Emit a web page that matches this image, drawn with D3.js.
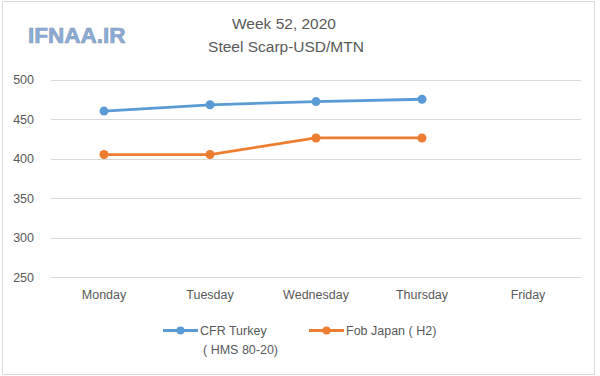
<!DOCTYPE html>
<html lang="en">
  <head>
    <meta charset="utf-8" />
    <title>Week 52, 2020 - Steel Scarp</title>
    <script src="https://cdnjs.cloudflare.com/ajax/libs/d3/7.8.5/d3.min.js"></script>
    <style type="text/css">
      body { margin: 0; background: #fff; }
      text { font-family: "Liberation Sans", Arial, sans-serif; }
    </style>
  </head>

  <body>
    <div id="chart"></div>
    <script>
      const days = ['Monday', 'Tuesday', 'Wednesday', 'Thursday', 'Friday'];
      const cfrTurkey = [460, 468, 472, 475, null];
      const fobJapan = [405, 405, 426, 426, null];
      const yTicks = [250, 300, 350, 400, 450, 500];
      const seriesNames = [['CFR Turkey', '( HMS 80-20)'], ['Fob Japan ( H2)']];
      const colors = ['#5b9bd5', '#ed7d31'];

      const W = 600, H = 376;
      const svg = d3.select('#chart')
        .append('svg')
        .attr('width', W)
        .attr('height', H);

      // outer frame
      svg.append('rect')
        .attr('x', 2.5).attr('y', 1.5)
        .attr('width', 592).attr('height', 373)
        .attr('fill', '#fff')
        .attr('stroke', '#d9d9d9');

      const x = d3.scaleBand().domain(days).range([51, 581]);
      const y = d3.scaleLinear().domain([250, 500]).range([277, 79.5]);

      // gridlines
      svg.append('g')
        .selectAll('line')
        .data(yTicks)
        .join('line')
        .attr('x1', 51).attr('x2', 581)
        .attr('y1', d => Math.round(y(d)) + 0.5)
        .attr('y2', d => Math.round(y(d)) + 0.5)
        .attr('stroke', '#d9d9d9');

      const yAxis = svg.append('g')
        .attr('transform', 'translate(34,0)')
        .call(d3.axisLeft(y).tickValues(yTicks).tickSize(0).tickPadding(0));
      yAxis.select('.domain').remove();
      yAxis.selectAll('text')
        .attr('font-size', 12.5)
        .attr('fill', '#595959')
        .style('font-family', '"Liberation Sans", Arial, sans-serif');

      const xAxis = svg.append('g')
        .attr('transform', 'translate(0,277)')
        .call(d3.axisBottom(x).tickSize(0).tickPadding(13));
      xAxis.select('.domain').remove();
      xAxis.selectAll('text')
        .attr('font-size', 12.5)
        .attr('fill', '#595959')
        .style('font-family', '"Liberation Sans", Arial, sans-serif');

      const line = d3.line()
        .defined(d => d != null)
        .x((d, i) => x(days[i]) + x.bandwidth() / 2)
        .y(d => y(d));

      [cfrTurkey, fobJapan].forEach((vals, s) => {
        svg.append('path')
          .attr('d', line(vals))
          .attr('fill', 'none')
          .attr('stroke', colors[s])
          .attr('stroke-width', 2.8)
          .attr('stroke-linejoin', 'round');
        svg.append('g')
          .selectAll('circle')
          .data(vals.map((v, i) => [i, v]).filter(d => d[1] != null))
          .join('circle')
          .attr('cx', d => x(days[d[0]]) + x.bandwidth() / 2)
          .attr('cy', d => y(d[1]))
          .attr('r', 4.5)
          .attr('fill', colors[s]);
      });

      // titles
      svg.append('text')
        .attr('x', 284).attr('y', 29)
        .attr('text-anchor', 'middle')
        .attr('font-size', 15.5)
        .attr('fill', '#595959')
        .text('Week 52, 2020');
      svg.append('text')
        .attr('x', 286).attr('y', 52)
        .attr('text-anchor', 'middle')
        .attr('font-size', 15.5)
        .attr('fill', '#595959')
        .text('Steel Scarp-USD/MTN');

      // watermark logo
      svg.append('text')
        .attr('x', 28).attr('y', 43)
        .attr('font-size', 22.5)
        .attr('font-weight', 'bold')
        .attr('fill', '#86acdd')
        .attr('stroke', '#8f9db0')
        .attr('stroke-width', 0.7)
        .text('IFNAA.IR');

      // legend
      const legendX = [163, 309];
      seriesNames.forEach((lines, s) => {
        const g = svg.append('g').attr('transform', `translate(${legendX[s]},330.5)`);
        g.append('line')
          .attr('x1', 0).attr('x2', 35)
          .attr('stroke', colors[s]).attr('stroke-width', 2.8);
        g.append('circle').attr('cx', 17.5).attr('r', 4).attr('fill', colors[s]);
        lines.forEach((t, k) => {
          g.append('text')
            .attr('x', k === 0 ? 37 : 40)
            .attr('y', 4.5 + k * 19)
            .attr('font-size', 12.5)
            .attr('fill', '#595959')
            .text(t);
        });
      });
    </script>
  </body>
</html>
